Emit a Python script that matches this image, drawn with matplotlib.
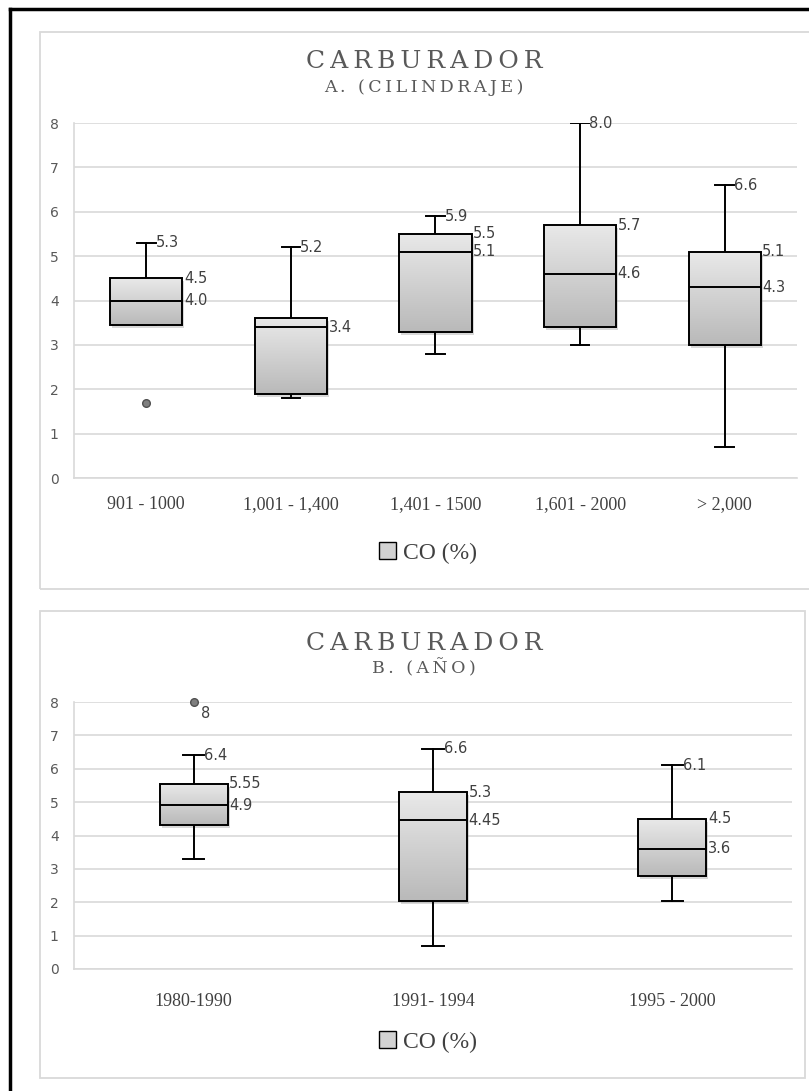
import numpy as np
import matplotlib
matplotlib.use('Agg')
import matplotlib.pyplot as plt
from matplotlib.patches import Rectangle, PathPatch, Patch
from matplotlib.lines import Line2D
from matplotlib.transforms import offset_copy
from matplotlib.colors import LinearSegmentedColormap

# --- data ---
cats_a = ['901 - 1000', '1,001 - 1,400', '1,401 - 1500', '1,601 - 2000', '> 2,000']
a_min = [3.45, 1.8, 2.8, 3.0, 0.7]
a_q1 = [3.45, 1.9, 3.3, 3.4, 3.0]
a_med = [4.0, 3.4, 5.1, 4.6, 4.3]
a_q3 = [4.5, 3.6, 5.5, 5.7, 5.1]
a_max = [5.3, 5.2, 5.9, 8.0, 6.6]
a_out = [[1.7], [], [], [], []]

cats_b = ['1980-1990', '1991- 1994', '1995 - 2000']
b_min = [3.3, 0.7, 2.05]
b_q1 = [4.3, 2.05, 2.8]
b_med = [4.9, 4.45, 3.6]
b_q3 = [5.55, 5.3, 4.5]
b_max = [6.4, 6.6, 6.1]
b_out = [[8.0], [], []]

W, H = 809, 1091
GRAY = '#595959'
GRID = '#d9d9d9'
CMAP = LinearSegmentedColormap.from_list('boxgrad', ['#b9b9b9', '#e9e9e9'])

fig = plt.figure(figsize=(W / 100, H / 100), dpi=100)


def fx(px):
    return px / W


def fy(py):
    return 1 - py / H


def spaced(s):
    return '\u2009'.join(s)


def panel(box_px, ax_px, title, subtitle, title_y, cats, lo, q1, med, q3, hi,
          outs, width, capw, fmt, xpad, legend_y, label_outliers):
    x0, y0, x1, y1 = box_px
    fig.add_artist(Rectangle((fx(x0), fy(y1)), (x1 - x0) / W, (y1 - y0) / H,
                             transform=fig.transFigure, fill=False,
                             edgecolor=GRID, lw=1.3))
    l, t, r, b = ax_px
    ax = fig.add_axes([fx(l), fy(b), (r - l) / W, (b - t) / H])
    pos = np.arange(1, len(cats) + 1)
    stats = [dict(whislo=w0, q1=a, med=m, q3=c, whishi=w1, fliers=f, label=n)
             for w0, a, m, c, w1, f, n in zip(lo, q1, med, q3, hi, outs, cats)]
    res = ax.bxp(stats, positions=pos, widths=width, capwidths=capw,
                 patch_artist=True,
                 boxprops=dict(facecolor='none', edgecolor='black', lw=1.4, zorder=3),
                 medianprops=dict(color='black', lw=1.4, zorder=4),
                 whiskerprops=dict(color='black', lw=1.4),
                 capprops=dict(color='black', lw=1.4),
                 flierprops=dict(marker='o', markersize=5.5, markerfacecolor='#7f7f7f',
                                 markeredgecolor='#505050'))
    for fl in res['fliers']:
        fl.set_clip_on(False)
    grad = np.linspace(0, 1, 256).reshape(-1, 1)
    for box, p, a, c in zip(res['boxes'], pos, q1, q3):
        sh = PathPatch(box.get_path(),
                       transform=offset_copy(ax.transData, fig=fig, x=2, y=-3, units='dots'),
                       facecolor='#808080', alpha=0.3, edgecolor='none', zorder=1.5)
        ax.add_patch(sh)
        im = ax.imshow(grad, extent=[p - width / 2, p + width / 2, a, c],
                       origin='lower', cmap=CMAP, aspect='auto', zorder=2)
        im.set_clip_path(box)

    lab = dict(textcoords='offset points', va='center', ha='left',
               fontsize=10.5, color='#404040', family='DejaVu Sans')
    for p, m, c, h in zip(pos, med, q3, hi):
        ax.annotate(fmt(m), (p + width / 2, m), xytext=(1, 0), **lab)
        if c - m >= 0.3:
            ax.annotate(fmt(c), (p + width / 2, c), xytext=(1, 0), **lab)
        ax.annotate(fmt(h), (p + capw / 2, h), xytext=(0, 0), **lab)
    if label_outliers:
        for p, f in zip(pos, outs):
            for v in f:
                ax.annotate(fmt(v), (p, v), xytext=(5, -8), **lab)

    ax.set_xlim(0.5, len(cats) + 0.5)
    ax.set_ylim(0, 8)
    ax.set_yticks(range(0, 9))
    ax.yaxis.grid(True, color=GRID, lw=1.2)
    ax.set_axisbelow(True)
    for s in ['top', 'right']:
        ax.spines[s].set_visible(False)
    for s in ['left', 'bottom']:
        ax.spines[s].set_color(GRID)
        ax.spines[s].set_linewidth(1.2)
    ax.tick_params(axis='y', length=0, pad=11, labelcolor=GRAY, labelsize=10)
    ax.set_xticks(pos, cats, family='Liberation Serif', fontsize=13, color='#404040')
    ax.tick_params(axis='x', length=0, pad=xpad)

    ax.legend(handles=[Patch(facecolor='#d2d2d2', edgecolor='black', label='CO (%)')],
              loc='center', bbox_to_anchor=(fx(428), fy(legend_y)),
              bbox_transform=fig.transFigure, frameon=False,
              prop=dict(family='Liberation Serif', size=17), labelcolor='#404040',
              handlelength=0.75, handleheight=0.75, handletextpad=0.3)

    fig.text(fx(424), fy(title_y), spaced(title), ha='center', va='center',
             family='DejaVu Serif', fontsize=18, color=GRAY)
    fig.text(fx(424), fy(title_y + 25), spaced(subtitle), ha='center', va='center',
             family='DejaVu Serif', fontsize=12.5, color=GRAY)
    return ax


panel((40, 32, 812, 589), (74, 123, 797, 478), 'CARBURADOR', 'A. (CILINDRAJE)', 62,
      cats_a, a_min, a_q1, a_med, a_q3, a_max, a_out, 0.5, 0.13,
      lambda v: '{:.1f}'.format(v), 13, 553, False)

panel((40, 611, 805, 1078), (74, 702, 792, 969), 'CARBURADOR', 'B. (AÑO)', 643,
      cats_b, b_min, b_q1, b_med, b_q3, b_max, b_out, 0.285, 0.09,
      lambda v: '{:g}'.format(v), 17, 1042, True)

# outer frame (left and top edges visible in the crop)
fig.add_artist(Line2D([fx(10), fx(10)], [fy(9), 0], color='black', lw=2.5,
                      transform=fig.transFigure))
fig.add_artist(Line2D([fx(10), 1], [fy(9), fy(9)], color='black', lw=2.5,
                      transform=fig.transFigure))

fig.savefig('out.png', dpi=100)
